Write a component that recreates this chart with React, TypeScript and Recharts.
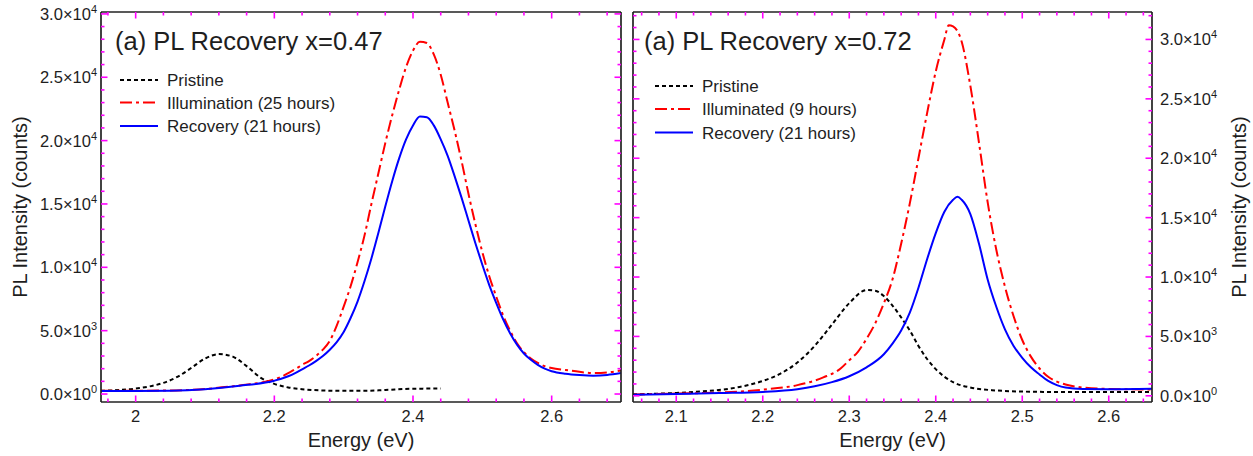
import React from 'react';
import { LineChart, Line, XAxis, YAxis } from 'recharts';

const FONT = '"Liberation Sans", Arial, Helvetica, sans-serif';
const INK = '#1e1e1e';
const FRAME = '#222222';
const TICK_COLOR = '#ff00ff';

// ---------- x = 0.47 sample ----------
const leftPristineEnergy = [1.95, 1.98, 2.0, 2.02, 2.04, 2.06, 2.08, 2.1, 2.12, 2.14, 2.16, 2.18, 2.2, 2.22, 2.24, 2.27, 2.3, 2.33, 2.36, 2.4, 2.44];
const leftPristineCounts = [250, 330, 430, 600, 880, 1350, 2050, 2800, 3150, 2950, 2200, 1300, 800, 520, 380, 280, 250, 250, 320, 420, 430];

const leftEnergy = [
  1.95, 2.0, 2.05, 2.1, 2.15, 2.2, 2.21, 2.22, 2.23, 2.24, 2.25, 2.26, 2.27, 2.28, 2.29, 2.3, 2.31, 2.32, 2.33, 2.34,
  2.35, 2.36, 2.37, 2.38, 2.39, 2.4, 2.41, 2.42, 2.43, 2.44, 2.45, 2.46, 2.47, 2.48, 2.49, 2.5, 2.51, 2.52, 2.53, 2.54,
  2.55, 2.56, 2.57, 2.58, 2.59, 2.6, 2.62, 2.64, 2.66, 2.68, 2.7,
];
const leftIlluminationCounts = [
  250, 260, 280, 400, 680, 1150, 1350, 1650, 1950, 2300, 2600, 3000, 3500, 4200, 5400, 6900, 8500, 10400, 12500, 15000,
  17400, 19800, 22000, 24000, 25800, 27100, 27800, 27700, 26800, 25200, 23000, 20800, 18400, 15800, 13400, 11200, 9300, 7700, 6200, 5000,
  4000, 3300, 2800, 2450, 2200, 2050, 1900, 1750, 1650, 1700, 1850,
];
const leftRecoveryCounts = [
  230, 240, 260, 380, 650, 1050, 1200, 1400, 1650, 1950, 2250, 2600, 3000, 3500, 4100, 4900, 6000, 7300, 8900, 10700,
  12700, 14800, 16800, 18600, 20100, 21200, 21900, 21850, 21200, 20100, 18800, 17200, 15500, 13700, 11900, 10200, 8600, 7200, 5900, 4800,
  3900, 3200, 2700, 2300, 2000, 1800, 1600, 1500, 1450, 1500, 1650,
];

// ---------- x = 0.72 sample ----------
const rightPristineEnergy = [2.05, 2.08, 2.1, 2.13, 2.16, 2.18, 2.2, 2.22, 2.24, 2.26, 2.28, 2.3, 2.32, 2.33, 2.34, 2.35, 2.36, 2.37, 2.38, 2.39, 2.4, 2.42, 2.44, 2.47, 2.5, 2.55, 2.6, 2.65];
const rightPristineCounts = [130, 180, 240, 380, 580, 850, 1250, 1850, 2800, 4200, 6000, 7800, 8900, 8850, 8400, 7600, 6600, 5500, 4200, 3100, 2250, 1150, 700, 450, 360, 320, 320, 320];

const rightIlluminatedEnergy = [
  2.05, 2.1, 2.15, 2.2, 2.24, 2.27, 2.29, 2.3, 2.31, 2.32, 2.33, 2.34, 2.35, 2.36, 2.37, 2.38, 2.39, 2.4, 2.41, 2.415,
  2.42, 2.43, 2.44, 2.45, 2.46, 2.47, 2.48, 2.49, 2.5, 2.51, 2.52, 2.53, 2.54, 2.55, 2.57, 2.6, 2.65,
];
const rightIlluminatedCounts = [
  120, 190, 280, 520, 900, 1550, 2300, 3000, 3700, 4800, 6100, 7800, 9800, 12800, 16200, 20000, 23800, 27300, 30000, 31200,
  31100, 29800, 26100, 21300, 16300, 12300, 9200, 6700, 4700, 3300, 2300, 1600, 1200, 950, 700, 580, 530,
];

const rightRecoveryEnergy = [
  2.05, 2.1, 2.15, 2.2, 2.24, 2.26, 2.28, 2.3, 2.32, 2.34, 2.35, 2.36, 2.37, 2.38, 2.39, 2.4, 2.41, 2.42, 2.425,
  2.43, 2.44, 2.45, 2.46, 2.47, 2.48, 2.49, 2.5, 2.51, 2.52, 2.53, 2.54, 2.55, 2.57, 2.6, 2.65,
];
const rightRecoveryCounts = [
  80, 150, 230, 330, 560, 800, 1150, 1650, 2400, 3500, 4400, 5500, 7000, 9100, 11500, 13700, 15500, 16500, 16750,
  16500, 15300, 12800, 9800, 7500, 5600, 4200, 3200, 2400, 1800, 1250, 900, 700, 580, 560, 600,
];

// ---------- axes ----------
const leftXMajor = [2.0, 2.2, 2.4, 2.6];
const leftXLabels = ['2', '2.2', '2.4', '2.6'];
const rightXMajor = [2.1, 2.2, 2.3, 2.4, 2.5, 2.6];
const rightXLabels = ['2.1', '2.2', '2.3', '2.4', '2.5', '2.6'];
const yMajor = [0, 5000, 10000, 15000, 20000, 25000, 30000];
const X_TITLE = 'Energy (eV)';
const Y_TITLE = 'PL Intensity (counts)';

type Pt = { e: number; v: number };
const toPoints = (e: number[], v: number[]): Pt[] => e.map((x, i) => ({ e: x, v: v[i] }));

type Series = { name: string; color: string; dash?: string; points: Pt[] };

const BLACK_DOT = { color: '#000000', dash: '4 3' };
const RED_DASHDOT = { color: '#ff0000', dash: '12 4 3 4' };
const BLUE_SOLID = { color: '#0000ff', dash: undefined };

const leftSeries: Series[] = [
  { name: 'Pristine', ...BLACK_DOT, points: toPoints(leftPristineEnergy, leftPristineCounts) },
  { name: 'Illumination (25 hours)', ...RED_DASHDOT, points: toPoints(leftEnergy, leftIlluminationCounts) },
  { name: 'Recovery (21 hours)', ...BLUE_SOLID, points: toPoints(leftEnergy, leftRecoveryCounts) },
];
const rightSeries: Series[] = [
  { name: 'Pristine', ...BLACK_DOT, points: toPoints(rightPristineEnergy, rightPristineCounts) },
  { name: 'Illuminated (9 hours)', ...RED_DASHDOT, points: toPoints(rightIlluminatedEnergy, rightIlluminatedCounts) },
  { name: 'Recovery (21 hours)', ...BLUE_SOLID, points: toPoints(rightRecoveryEnergy, rightRecoveryCounts) },
];

const round6 = (v: number) => Math.round(v * 1e6) / 1e6;
const stepTicks = (lo: number, hi: number, step: number) => {
  const out: number[] = [];
  const start = Math.ceil(round6(lo / step)) * step;
  for (let t = start; t <= hi + 1e-9; t += step) out.push(round6(t));
  return out;
};
const isMajor = (v: number, majors: number[]) => majors.some((m) => Math.abs(m - v) < 1e-6);

const sciParts = (v: number) => {
  if (v === 0) return { mant: '0.0', exp: '0' };
  const exp = Math.floor(Math.log10(v) + 1e-9);
  return { mant: (v / Math.pow(10, exp)).toFixed(1), exp: String(exp) };
};

const MAJOR_LEN = 6.5;
const MINOR_LEN = 3.5;
const TICK_STROKE = 1.6;
const CHART_H = 456;
const PLOT_TOP = 12;
const PLOT_BOTTOM = 402;

type PanelProps = {
  left: number;
  width: number;
  margin: { top: number; right: number; bottom: number; left: number };
  plotLeft: number;
  plotRight: number;
  labelSide: 'left' | 'right';
  title: string;
  titleX: number;
  legendX: number;
  legendRows: number[];
  series: Series[];
  xDomain: [number, number];
  xMajor: number[];
  xLabels: string[];
  xMinorStep: number;
  yDomain: [number, number];
};

function Panel(p: PanelProps) {
  const xTicks = stepTicks(p.xDomain[0], p.xDomain[1], p.xMinorStep);
  const yTicks = stepTicks(Math.max(0, p.yDomain[0]), p.yDomain[1], 1000);
  const labelAxisId = p.labelSide === 'left' ? 'yl' : 'yr';

  const xTick = (dir: 1 | -1, withLabel: boolean) => (props: any) => {
    const x = Number(props.x);
    const y = Number(props.y);
    const v = Number(props.payload.value);
    const major = isMajor(v, p.xMajor);
    const idx = p.xMajor.findIndex((m) => Math.abs(m - v) < 1e-6);
    return (
      <g>
        <line x1={x} x2={x} y1={y} y2={y + dir * (major ? MAJOR_LEN : MINOR_LEN)} stroke={TICK_COLOR} strokeWidth={TICK_STROKE} />
        {withLabel && major && (
          <text x={x} y={y + 20} textAnchor="middle" fontFamily={FONT} fontSize={16.5} fill={INK}>
            {p.xLabels[idx]}
          </text>
        )}
      </g>
    );
  };

  const yTick = (dir: 1 | -1, labelMode: 'none' | 'left' | 'right') => (props: any) => {
    const x = Number(props.x);
    const y = Number(props.y);
    const v = Number(props.payload.value);
    const major = isMajor(v, yMajor);
    const parts = sciParts(v);
    return (
      <g>
        <line x1={x} x2={x + dir * (major ? MAJOR_LEN : MINOR_LEN)} y1={y} y2={y} stroke={TICK_COLOR} strokeWidth={TICK_STROKE} />
        {labelMode !== 'none' && major && (
          <text
            x={labelMode === 'left' ? x - 4 : x + 8}
            y={y + 6}
            textAnchor={labelMode === 'left' ? 'end' : 'start'}
            fontFamily={FONT}
            fontSize={16.5}
            fill={INK}
          >
            <tspan>{parts.mant}×10</tspan>
            <tspan dy={-7} fontSize={11}>{parts.exp}</tspan>
          </text>
        )}
      </g>
    );
  };

  const axisLine = { stroke: FRAME, strokeWidth: 1.7 };
  const common = { type: 'number' as const, allowDataOverflow: true, interval: 0 as const, tickSize: 0, tickMargin: 0, tickLine: false, axisLine };

  const plotMidX = (p.plotLeft + p.plotRight) / 2;
  const plotMidY = (PLOT_TOP + PLOT_BOTTOM) / 2;
  const yTitleX = p.labelSide === 'left' ? 27 : p.plotRight + 94;

  return (
    <div style={{ position: 'absolute', left: p.left, top: 0 }}>
      <LineChart width={p.width} height={CHART_H} margin={p.margin}>
        <XAxis {...common} xAxisId="xb" dataKey="e" orientation="bottom" height={54} domain={p.xDomain} ticks={xTicks} tick={xTick(-1, true)} />
        {/* thin mirrored axis along the top edge: ticks only */}
        <XAxis {...common} xAxisId="xt" dataKey="e" orientation="top" height={1} domain={p.xDomain} ticks={xTicks} tick={xTick(1, false)} />
        <YAxis
          {...common}
          yAxisId="yl"
          orientation="left"
          width={p.labelSide === 'left' ? 101 : 1}
          domain={p.yDomain}
          ticks={yTicks}
          tick={yTick(1, p.labelSide === 'left' ? 'left' : 'none')}
        />
        <YAxis
          {...common}
          yAxisId="yr"
          orientation="right"
          width={p.labelSide === 'right' ? 101 : 1}
          domain={p.yDomain}
          ticks={yTicks}
          tick={yTick(-1, p.labelSide === 'right' ? 'right' : 'none')}
        />

        {p.series.map((s) => (
          <Line
            key={s.name}
            xAxisId="xb"
            yAxisId={labelAxisId}
            data={s.points}
            dataKey="v"
            name={s.name}
            type="monotone"
            stroke={s.color}
            strokeWidth={2}
            strokeDasharray={s.dash}
            dot={false}
            activeDot={false}
            isAnimationActive={false}
          />
        ))}

        <g className="panel-annotations">
          <text x={plotMidX} y={447} textAnchor="middle" fontFamily={FONT} fontSize={20} fill={INK}>
            {X_TITLE}
          </text>
          <text
            x={yTitleX}
            y={plotMidY}
            transform={`rotate(-90, ${yTitleX}, ${plotMidY})`}
            textAnchor="middle"
            fontFamily={FONT}
            fontSize={20}
            fill={INK}
          >
            {Y_TITLE}
          </text>
          <text x={p.titleX} y={50} fontFamily={FONT} fontSize={25.5} fill={INK}>
            {p.title}
          </text>
          {p.series.map((s, i) => (
            <g key={s.name}>
              <line
                x1={p.legendX}
                x2={p.legendX + 38}
                y1={p.legendRows[i]}
                y2={p.legendRows[i]}
                stroke={s.color}
                strokeWidth={2}
                strokeDasharray={s.dash}
              />
              <text x={p.legendX + 47} y={p.legendRows[i] + 6} fontFamily={FONT} fontSize={17} fill={INK}>
                {s.name}
              </text>
            </g>
          ))}
        </g>
      </LineChart>
    </div>
  );
}

export default function App() {
  return (
    <div style={{ position: 'absolute', left: 0, top: 0, width: 1253, height: 456, background: '#ffffff' }}>
      <Panel
        left={0}
        width={640}
        margin={{ top: 11, right: 18, bottom: 0, left: 0 }}
        plotLeft={101}
        plotRight={621}
        labelSide="left"
        title="(a) PL Recovery x=0.47"
        titleX={115}
        legendX={120}
        legendRows={[80, 102.5, 126]}
        series={leftSeries}
        xDomain={[1.95, 2.7]}
        xMajor={leftXMajor}
        xLabels={leftXLabels}
        xMinorStep={0.04}
        yDomain={[-630, 30150]}
      />
      <Panel
        left={620}
        width={633}
        margin={{ top: 11, right: 0, bottom: 0, left: 12 }}
        plotLeft={13}
        plotRight={532}
        labelSide="right"
        title="(a) PL Recovery x=0.72"
        titleX={24}
        legendX={35}
        legendRows={[86, 109, 132.5]}
        series={rightSeries}
        xDomain={[2.05, 2.65]}
        xMajor={rightXMajor}
        xLabels={rightXLabels}
        xMinorStep={0.02}
        yDomain={[-520, 32310]}
      />
    </div>
  );
}
